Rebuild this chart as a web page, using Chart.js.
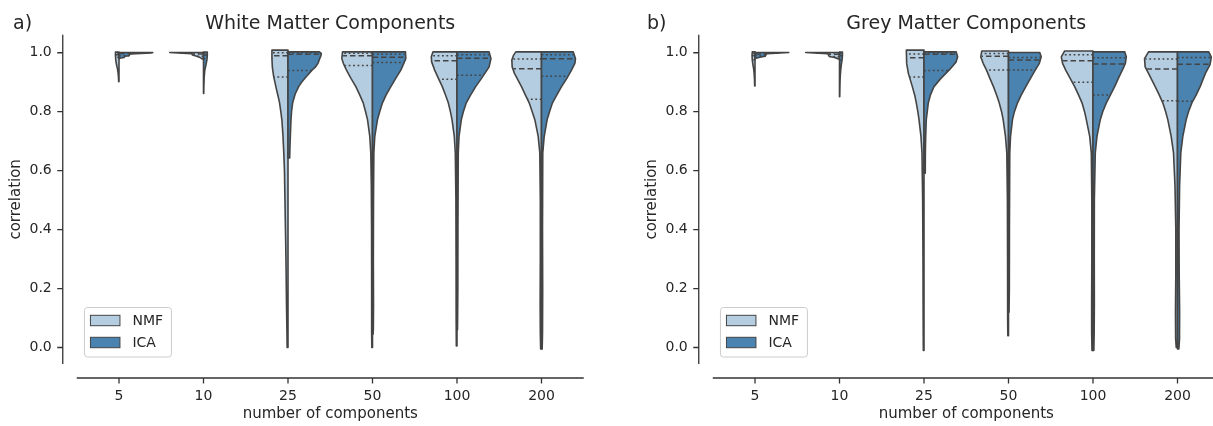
<!DOCTYPE html>
<html><head><meta charset="utf-8">
<script src="https://cdn.jsdelivr.net/npm/chart.js@4.4.1/dist/chart.umd.min.js"></script>
<style>
html,body{margin:0;padding:0;background:#fff;overflow:hidden;width:1213px;height:426px;}
#wm{position:absolute;left:0;top:0;}
#gm{position:absolute;left:606px;top:0;}
</style></head><body>
<canvas id="wm" width="606" height="426"></canvas>
<canvas id="gm" width="620" height="426"></canvas>
<script>
// ---------------- data ----------------
const categories = ['5','10','25','50','100','200'];
const yTicks = [0, 0.2, 0.4, 0.6, 0.8, 1.0];
const seriesNames = ['NMF', 'ICA'];

// violin half profiles: [correlation, half-width in category units], top to bottom
const wmNmfShape = [
 [[1.002,0.042],[0.99,0.042],[0.975,0.038],[0.96,0.03],[0.945,0.018],[0.93,0.01],[0.915,0.006],[0.902,0.004]],
 [[1.001,0.40],[0.999,0.30],[0.997,0.14],[0.992,0.13],[0.988,0.08],[0.985,0.05],[0.98,0.02],[0.978,0.0]],
 [[1.009,0.19],[0.98,0.19],[0.95,0.185],[0.92,0.17],[0.9,0.155],[0.88,0.14],[0.85,0.115],[0.83,0.10],[0.8,0.085],[0.77,0.072],[0.72,0.06],[0.66,0.05],[0.6,0.042],[0.5,0.036],[0.43,0.032],[0.35,0.027],[0.25,0.022],[0.15,0.018],[0.08,0.014],[0.0,0.01]],
 [[1.003,0.355],[0.98,0.363],[0.964,0.345],[0.941,0.308],[0.913,0.255],[0.885,0.197],[0.856,0.15],[0.83,0.11],[0.8,0.082],[0.773,0.059],[0.716,0.032],[0.66,0.02],[0.55,0.014],[0.4,0.011],[0.2,0.01],[0.05,0.01],[0.0,0.008]],
 [[1.003,0.284],[0.986,0.304],[0.969,0.30],[0.941,0.264],[0.913,0.22],[0.885,0.174],[0.856,0.135],[0.83,0.103],[0.8,0.078],[0.773,0.059],[0.716,0.032],[0.66,0.02],[0.5,0.013],[0.3,0.011],[0.1,0.01],[0.005,0.008]],
 [[1.003,0.304],[0.992,0.33],[0.975,0.351],[0.952,0.347],[0.93,0.32],[0.885,0.237],[0.856,0.19],[0.83,0.146],[0.8,0.11],[0.773,0.079],[0.716,0.039],[0.66,0.02],[0.5,0.014],[0.3,0.014],[0.15,0.016],[0.05,0.014],[-0.005,0.01]]
];
const wmIcaShape = [
 [[1.001,0.40],[0.999,0.38],[0.997,0.2],[0.996,0.13],[0.99,0.12],[0.988,0.07],[0.984,0.06],[0.982,0.02],[0.98,0.0]],
 [[1.002,0.045],[0.99,0.045],[0.975,0.04],[0.96,0.03],[0.94,0.015],[0.92,0.009],[0.9,0.006],[0.88,0.004],[0.862,0.003]],
 [[1.003,0.37],[0.998,0.394],[0.99,0.39],[0.98,0.375],[0.964,0.355],[0.95,0.32],[0.941,0.284],[0.92,0.22],[0.9,0.16],[0.885,0.126],[0.86,0.085],[0.83,0.055],[0.8,0.042],[0.77,0.035],[0.72,0.028],[0.68,0.023],[0.643,0.02]],
 [[1.003,0.39],[0.98,0.394],[0.964,0.37],[0.941,0.335],[0.913,0.275],[0.885,0.217],[0.856,0.16],[0.83,0.118],[0.8,0.085],[0.773,0.059],[0.716,0.027],[0.66,0.016],[0.5,0.012],[0.3,0.01],[0.15,0.012],[0.06,0.01],[0.045,0.006]],
 [[1.003,0.38],[0.98,0.402],[0.952,0.38],[0.941,0.355],[0.913,0.29],[0.885,0.221],[0.856,0.16],[0.83,0.11],[0.8,0.075],[0.773,0.051],[0.716,0.024],[0.66,0.015],[0.4,0.011],[0.2,0.01],[0.06,0.006]],
 [[1.003,0.375],[0.98,0.402],[0.964,0.395],[0.941,0.355],[0.913,0.30],[0.885,0.237],[0.856,0.18],[0.83,0.13],[0.8,0.095],[0.773,0.067],[0.716,0.032],[0.66,0.015],[0.4,0.012],[0.2,0.014],[0.05,0.012],[-0.005,0.008]]
];
const gmNmfShape = [
 [[1.003,0.032],[0.99,0.035],[0.975,0.032],[0.96,0.025],[0.945,0.016],[0.93,0.01],[0.91,0.006],[0.887,0.004]],
 [[1.001,0.40],[0.999,0.30],[0.997,0.14],[0.992,0.13],[0.987,0.12],[0.984,0.06],[0.98,0.02],[0.978,0.0]],
 [[1.009,0.209],[0.963,0.205],[0.93,0.185],[0.885,0.138],[0.856,0.11],[0.83,0.091],[0.8,0.073],[0.773,0.059],[0.716,0.036],[0.66,0.024],[0.5,0.016],[0.3,0.012],[0.1,0.01],[-0.01,0.008]],
 [[1.006,0.316],[0.986,0.328],[0.964,0.30],[0.941,0.26],[0.913,0.22],[0.885,0.178],[0.856,0.14],[0.83,0.11],[0.8,0.082],[0.773,0.063],[0.716,0.036],[0.66,0.02],[0.5,0.013],[0.3,0.011],[0.1,0.01],[0.04,0.008]],
 [[1.006,0.335],[0.986,0.375],[0.964,0.36],[0.941,0.323],[0.913,0.27],[0.885,0.217],[0.856,0.17],[0.83,0.13],[0.8,0.1],[0.773,0.079],[0.716,0.039],[0.66,0.02],[0.5,0.014],[0.3,0.014],[0.15,0.016],[0.05,0.016],[-0.01,0.012]],
 [[1.003,0.343],[0.98,0.39],[0.952,0.383],[0.93,0.343],[0.885,0.264],[0.856,0.215],[0.83,0.174],[0.8,0.14],[0.773,0.115],[0.716,0.075],[0.66,0.047],[0.55,0.03],[0.4,0.02],[0.25,0.02],[0.12,0.024],[0.03,0.022],[0.0,0.015]]
];
const gmIcaShape = [
 [[1.001,0.40],[0.999,0.30],[0.997,0.14],[0.993,0.13],[0.988,0.12],[0.985,0.06],[0.982,0.02],[0.98,0.0]],
 [[1.002,0.035],[0.99,0.035],[0.975,0.03],[0.96,0.022],[0.94,0.014],[0.92,0.009],[0.9,0.006],[0.87,0.004],[0.851,0.003]],
 [[1.003,0.38],[0.986,0.398],[0.969,0.38],[0.955,0.34],[0.941,0.296],[0.913,0.2],[0.885,0.118],[0.856,0.075],[0.83,0.051],[0.773,0.027],[0.716,0.02],[0.66,0.016],[0.591,0.015]],
 [[1.001,0.37],[0.986,0.387],[0.964,0.365],[0.941,0.316],[0.913,0.26],[0.885,0.205],[0.856,0.15],[0.83,0.107],[0.8,0.07],[0.773,0.047],[0.716,0.024],[0.66,0.015],[0.4,0.011],[0.2,0.01],[0.12,0.006]],
 [[1.003,0.375],[0.986,0.394],[0.964,0.383],[0.941,0.347],[0.913,0.30],[0.885,0.256],[0.856,0.205],[0.83,0.158],[0.8,0.115],[0.773,0.086],[0.716,0.047],[0.66,0.027],[0.5,0.016],[0.3,0.015],[0.15,0.016],[0.05,0.014],[-0.01,0.01]],
 [[1.003,0.37],[0.985,0.40],[0.96,0.385],[0.93,0.33],[0.885,0.268],[0.856,0.22],[0.83,0.17],[0.8,0.13],[0.773,0.103],[0.716,0.063],[0.66,0.039],[0.55,0.025],[0.4,0.018],[0.25,0.02],[0.12,0.025],[0.03,0.024],[-0.005,0.016]]
];
// quartiles [Q1, median, Q3]
const wmNmfQuartiles = [[0.985,0.993,0.998],[0.988,0.996,0.999],[0.918,0.99,1.0],[0.957,0.99,0.998],[0.91,0.973,0.99],[0.842,0.946,0.979]];
const wmIcaQuartiles = [[0.99,0.997,0.999],[0.98,0.992,0.998],[0.94,0.995,1.0],[0.967,0.985,0.995],[0.924,0.981,0.993],[0.92,0.98,0.993]];
const gmNmfQuartiles = [[0.975,0.99,0.997],[0.987,0.995,0.999],[0.918,0.983,0.996],[0.941,0.988,0.997],[0.90,0.973,0.993],[0.837,0.945,0.979]];
const gmIcaQuartiles = [[0.99,0.996,0.999],[0.975,0.99,0.998],[0.94,0.995,0.999],[0.941,0.975,0.984],[0.857,0.962,0.983],[0.835,0.961,0.984]];

// ---------------- style ----------------
const FONT = '"DejaVu Sans", "Liberation Sans", sans-serif';
const TEXT = '#262626';
const AXIS = '#333333';
const EDGE = '#444444';
const COLORS = ['#b4cde0', '#4a83b0'];

function widthAt(shape, v) {
  for (let k = 0; k < shape.length - 1; k++) {
    const [v0, w0] = shape[k], [v1, w1] = shape[k + 1];
    if (v <= v0 && v >= v1) return w0 + (w1 - w0) * (v0 - v) / (v0 - v1 || 1);
  }
  return v > shape[0][0] ? shape[0][1] : shape[shape.length - 1][1];
}

function drawHalf(ctx, xs, ys, i, shape, side, color, q) {
  const cx = xs.getPixelForValue(i);
  ctx.save();
  ctx.beginPath();
  ctx.moveTo(cx, ys.getPixelForValue(shape[0][0]));
  for (const [v, w] of shape) ctx.lineTo(xs.getPixelForValue(i + side * w), ys.getPixelForValue(v));
  ctx.lineTo(cx, ys.getPixelForValue(shape[shape.length - 1][0]));
  ctx.closePath();
  ctx.fillStyle = color;
  ctx.fill();
  ctx.lineWidth = 1.6;
  ctx.lineJoin = 'round';
  ctx.strokeStyle = EDGE;
  ctx.stroke();
  ctx.lineWidth = 1.5;
  q.forEach((v, k) => {
    const w = widthAt(shape, v);
    const py = ys.getPixelForValue(v);
    ctx.setLineDash(k === 1 ? [5.5, 3] : [1.8, 2.6]);
    ctx.beginPath();
    ctx.moveTo(cx, py);
    ctx.lineTo(xs.getPixelForValue(i + side * w * 0.97), py);
    ctx.stroke();
  });
  ctx.restore();
}

function makeChart(id, title, letter, letterX, nmfShape, icaShape, nmfQ, icaQ, padL, padR) {
  const plugin = {
    id: 'violins_' + id,
    beforeDatasetsDraw(chart) {
      const {ctx, scales: {x, y}} = chart;
      categories.forEach((c, i) => {
        drawHalf(ctx, x, y, i, nmfShape[i], -1, COLORS[0], nmfQ[i]);
        drawHalf(ctx, x, y, i, icaShape[i], 1, COLORS[1], icaQ[i]);
      });
    },
    afterDraw(chart) {
      const {ctx, chartArea: a, scales: {x, y}} = chart;
      ctx.save();
      // offset spines and tick marks
      ctx.strokeStyle = AXIS;
      ctx.lineWidth = 1.3;
      const sx = a.left - 14, sy = a.bottom + 14;
      ctx.beginPath();
      ctx.moveTo(sx, a.top); ctx.lineTo(sx, a.bottom);
      yTicks.forEach(v => { const py = y.getPixelForValue(v); ctx.moveTo(sx - 5.5, py); ctx.lineTo(sx, py); });
      ctx.moveTo(a.left, sy); ctx.lineTo(a.right, sy);
      categories.forEach((c, i) => { const px = x.getPixelForValue(i); ctx.moveTo(px, sy); ctx.lineTo(px, sy + 5.5); });
      ctx.stroke();
      // title and panel letter
      ctx.fillStyle = TEXT;
      ctx.font = '19px ' + FONT;
      ctx.textBaseline = 'alphabetic';
      ctx.textAlign = 'center';
      ctx.fillText(title, (a.left + a.right) / 2, 29);
      ctx.textAlign = 'left';
      ctx.fillText(letter, letterX, 29);
      // legend
      const bx = a.left + 7.7, by = 307.5, bw = 87, bh = 49.5;
      ctx.beginPath();
      ctx.roundRect(bx, by, bw, bh, 3);
      ctx.fillStyle = 'rgba(255,255,255,0.8)';
      ctx.fill();
      ctx.strokeStyle = '#cccccc';
      ctx.lineWidth = 1;
      ctx.stroke();
      ctx.font = '14px ' + FONT;
      ctx.textBaseline = 'middle';
      seriesNames.forEach((n, k) => {
        const cy = by + 13 + k * 22;
        ctx.fillStyle = COLORS[k];
        ctx.fillRect(bx + 6, cy - 5.2, 29.5, 10.4);
        ctx.strokeStyle = EDGE;
        ctx.lineWidth = 1;
        ctx.strokeRect(bx + 6, cy - 5.2, 29.5, 10.4);
        ctx.fillStyle = TEXT;
        ctx.fillText(n, bx + 48, cy + 0.5);
      });
      ctx.restore();
    }
  };
  return new Chart(document.getElementById(id), {
    type: 'scatter',
    data: { datasets: seriesNames.map((n, k) => ({ label: n, data: [], backgroundColor: COLORS[k], borderColor: EDGE })) },
    options: {
      responsive: false, animation: false, devicePixelRatio: 1,
      layout: { padding: { top: 34.75, left: padL, right: padR, bottom: 0 } },
      plugins: { legend: { display: false }, tooltip: { enabled: false }, title: { display: false } },
      scales: {
        x: {
          type: 'linear', min: -0.5, max: 5.5,
          afterBuildTicks: s => { s.ticks = categories.map((c, i) => ({ value: i })); },
          afterFit: s => { s.height = 62; },
          ticks: { callback: v => categories[v], color: TEXT, font: { family: FONT, size: 14 }, padding: 24, maxRotation: 0, autoSkip: false },
          grid: { display: false, drawTicks: false }, border: { display: false },
          title: { display: true, text: 'number of components', color: TEXT, font: { family: FONT, size: 15 }, padding: { top: 0, bottom: 3 } }
        },
        y: {
          type: 'linear', min: -0.056, max: 1.061,
          afterBuildTicks: s => { s.ticks = yTicks.map(v => ({ value: v })); },
          afterFit: s => { s.width = 76.75; },
          ticks: { callback: v => v.toFixed(1), color: TEXT, font: { family: FONT, size: 14 }, padding: 25 },
          grid: { display: false, drawTicks: false }, border: { display: false },
          title: { display: true, text: 'correlation', color: TEXT, font: { family: FONT, size: 15 }, padding: { top: 7, bottom: 0 } }
        }
      }
    },
    plugins: [plugin]
  });
}

makeChart('wm', 'White Matter Components', 'a)', 13, wmNmfShape, wmIcaShape, wmNmfQuartiles, wmIcaQuartiles, 0, 22.25);
makeChart('gm', 'Grey Matter Components', 'b)', 41, gmNmfShape, gmIcaShape, gmNmfQuartiles, gmIcaQuartiles, 30, 6.25);
</script>
</body></html>
